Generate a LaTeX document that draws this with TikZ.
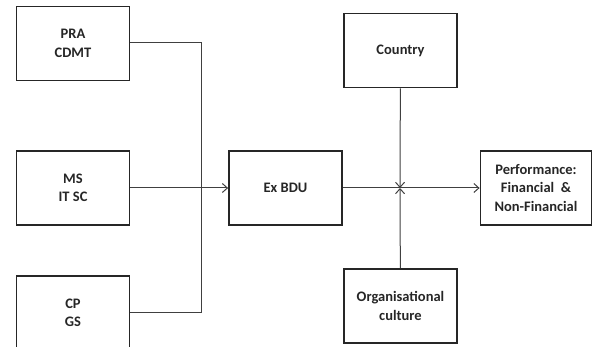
\documentclass[tikz,border=0pt]{standalone}
\usepackage{fontspec}
\setmainfont{Carlito}
\usetikzlibrary{arrows.meta}
\begin{document}
\begin{tikzpicture}[x=1pt,y=-1pt,
  box/.style={draw=black!85,line width=1.8pt,minimum width=113pt,minimum height=74pt,inner sep=0pt,align=center,font=\fontsize{14.5}{18.5}\selectfont\bfseries,text=black!85},
  conn/.style={draw=black!75,line width=1pt},
  arr/.style={conn,-{Straight Barb[length=5pt,width=9pt,line width=1pt]}}]
\useasboundingbox (0,0) rectangle (592,347);
\clip (0,0) rectangle (592,347);
\node[box] (pra) at (73,43.5) {PRA\\CDMT};
\node[box] (ms) at (73,188) {MS\\IT SC};
\node[box] (cp) at (73,313) {CP\\GS};
\node[box] (ex) at (285.5,188) {Ex BDU};
\node[box] (co) at (400.5,50.5) {Country};
\node[box] (org) at (400.5,306) {Organisational\\culture};
\node[box,minimum width=111pt] (perf) at (536,188) {Performance:\\Financial \ \&\\Non-Financial};
\coordinate (jn) at (400,188);
\draw[conn] (pra.east |- 0,43) -- (201,43) -- (201,313) -- (cp.east |- 0,313);
\draw[arr] (ms) -- (ex);
\draw[arr] (ex) -- (perf);
\draw[arr] (co) -- (jn);
\draw[arr] (org) -- (jn);
\end{tikzpicture}
\end{document}
